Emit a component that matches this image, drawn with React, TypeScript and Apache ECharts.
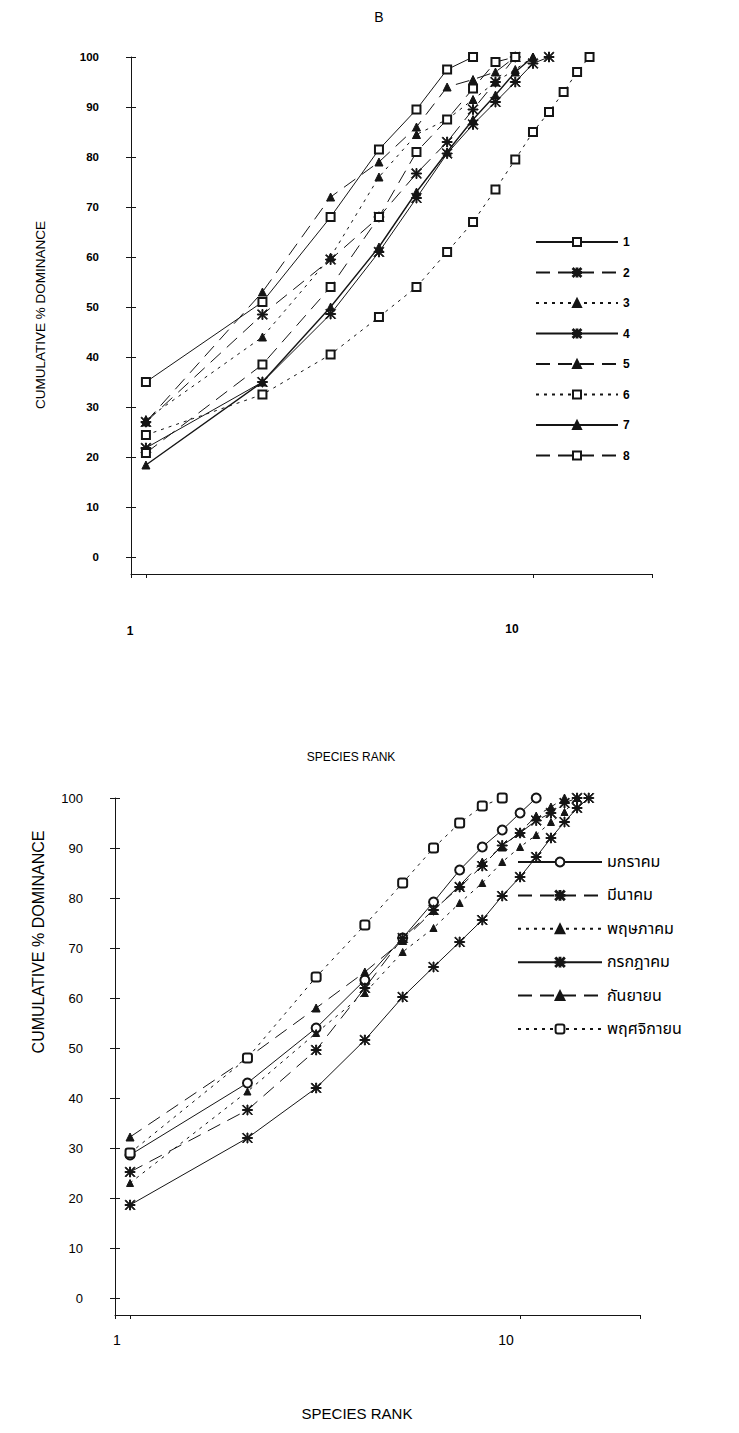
import React, { useEffect, useRef } from "react";
import * as echarts from "echarts";

// Species rank positions (x values, log scale)
const speciesRank = [1, 2, 3, 4, 5, 6, 7, 8, 9, 10, 11, 12, 13, 14, 15];

// Y-axis tick values (cumulative % dominance)
const yTicks = [0, 10, 20, 30, 40, 50, 60, 70, 80, 90, 100];

// Panel B: stations 1–8, cumulative % dominance by species rank
const stationNames = ["1", "2", "3", "4", "5", "6", "7", "8"];
const st1 = [35, 51, 68, 81.5, 89.5, 97.5, 100];
const st2 = [27, 48.5, 59.5, 68, 76.7, 83, 89.5, 95, 100];
const st3 = [27.5, 44, 60, 76, 84.5, 87.5, 91.5, 95, 97.5, 100];
const st4 = [21.8, 35, 48.6, 61, 71.8, 80.7, 86.5, 91, 95, 98.7, 100];
const st5 = [27, 53, 72, 79, 86, 94, 95.5, 97, 100];
const st6 = [24.4, 32.5, 40.5, 48, 54, 61, 67, 73.5, 79.5, 85, 89, 93, 97, 100];
const st7 = [18.4, 35, 50, 62, 73, 81, 87.5, 92.4, 97, 100];
const st8 = [20.8, 38.5, 54, 68, 81, 87.5, 93.7, 99, 100];

// Lower panel: sampling months
const monthNames = ["มกราคม", "มีนาคม", "พฤษภาคม", "กรกฎาคม", "กันยายน", "พฤศจิกายน"];
const jan = [28.6, 43, 54, 63.6, 72, 79.2, 85.6, 90.2, 93.6, 97, 100];
const mar = [25.2, 37.6, 49.6, 62, 72, 77.6, 82.2, 86.4, 90.5, 93, 95.5, 97, 99, 100];
const may = [23, 41.3, 53, 61, 69.2, 74, 79, 83, 87.2, 90.2, 92.6, 95.2, 97.2, 100];
const jul = [18.6, 32, 42, 51.6, 60.2, 66.2, 71.2, 75.6, 80.4, 84.2, 88.2, 92, 95.2, 98, 100];
const sep = [32.2, 48, 58, 65.2, 71.5, 77.5, 82.5, 87.2, 90.2, 93.2, 96.4, 98.2, 100];
const nov = [29, 48, 64.2, 74.6, 83, 90, 95, 98.4, 100];

const INK = "#151515";
const FONT = "'Liberation Sans', Arial, Helvetica, sans-serif";
const THAI_FONT = "'Noto Sans Thai', 'Noto Serif Thai', 'Loma', 'Garuda', 'Norasi', 'Noto Sans', sans-serif";

const ASTERISK =
  "path://M4.5,0 L5.5,0 L5.5,10 L4.5,10 Z M0,4.5 L10,4.5 L10,5.5 L0,5.5 Z " +
  "M0.7,0 L10,9.3 L9.3,10 L0,0.7 Z M9.3,0 L10,0.7 L0.7,10 L0,9.3 Z";

const LONG_DASH = [14, 8];
const SHORT_DASH = [3, 5];

type Look = { symbol: string; size: number; dash: any; width?: number };

const stationLooks: Look[] = [
  { symbol: "emptyRect", size: 8, dash: "solid" },
  { symbol: ASTERISK, size: 10, dash: LONG_DASH },
  { symbol: "triangle", size: 8, dash: SHORT_DASH },
  { symbol: ASTERISK, size: 10, dash: "solid" },
  { symbol: "triangle", size: 8, dash: LONG_DASH },
  { symbol: "emptyRect", size: 8, dash: SHORT_DASH },
  { symbol: "triangle", size: 8, dash: "solid", width: 1.4 },
  { symbol: "emptyRect", size: 8, dash: LONG_DASH },
];

const monthLooks: Look[] = [
  { symbol: "emptyCircle", size: 9, dash: "solid" },
  { symbol: ASTERISK, size: 10, dash: LONG_DASH },
  { symbol: "triangle", size: 7, dash: SHORT_DASH },
  { symbol: ASTERISK, size: 10, dash: "solid" },
  { symbol: "triangle", size: 8, dash: LONG_DASH },
  { symbol: "emptyRoundRect", size: 9, dash: SHORT_DASH },
];

const toPoints = (vals: number[]) => vals.map((v, i) => [speciesRank[i], v]);

function makeSeries(name: string, vals: number[], look: Look, axisIdx: number) {
  return {
    name,
    type: "line",
    xAxisIndex: axisIdx,
    yAxisIndex: axisIdx * 2,
    data: toPoints(vals),
    symbol: look.symbol,
    symbolSize: look.size,
    showAllSymbol: true,
    lineStyle: { color: INK, width: look.width ?? 1, type: look.dash },
    itemStyle: { color: INK, borderColor: INK, borderWidth: 1 },
    emphasis: { disabled: true },
  };
}

function yAxesFor(gridIndex: number, fontSize: number, fontWeight: string) {
  return [
    {
      gridIndex,
      type: "value",
      min: -3.4,
      max: 100,
      axisLine: { show: true, lineStyle: { color: INK, width: 1 } },
      axisTick: { show: true, length: 5, customValues: yTicks, lineStyle: { color: INK } },
      axisLabel: { customValues: yTicks, margin: 32, fontSize, fontWeight, color: "#000", fontFamily: FONT },
      splitLine: { show: false },
    },
    {
      gridIndex,
      type: "value",
      position: "left",
      min: -3.4,
      max: 100,
      axisLine: { show: false },
      axisTick: { show: true, inside: true, length: 5, customValues: yTicks, lineStyle: { color: INK } },
      axisLabel: { show: false },
      splitLine: { show: false },
    },
  ];
}

function xAxisFor(gridIndex: number) {
  return {
    gridIndex,
    type: "log",
    logBase: 10,
    min: 0.915,
    max: 20.3,
    axisLine: { show: true, onZero: false, lineStyle: { color: INK, width: 1 } },
    axisTick: { show: true, length: 4, lineStyle: { color: INK } },
    axisLabel: { show: false },
    splitLine: { show: false },
  };
}

function label(text: string, x: number, y: number, size: number, weight = "normal", extra: any = {}) {
  return {
    type: "text",
    x,
    y,
    silent: true,
    ...extra,
    style: {
      text,
      fill: "#000",
      font: `${weight} ${size}px ${FONT}`,
      align: "center",
      verticalAlign: "middle",
    },
  };
}

export default function App() {
  const ref = useRef<HTMLDivElement>(null);

  useEffect(() => {
    if (!ref.current) return;
    const chart = echarts.init(ref.current, undefined, { renderer: "svg" });

    const stationData = [st1, st2, st3, st4, st5, st6, st7, st8];
    const monthData = [jan, mar, may, jul, sep, nov];

    chart.setOption({
      animation: false,
      backgroundColor: "#ffffff",
      grid: [
        { left: 131, top: 57, width: 521, height: 517 },
        { left: 115, top: 798, width: 525, height: 517 },
      ],
      xAxis: [xAxisFor(0), xAxisFor(1)],
      yAxis: [...yAxesFor(0, 11.5, "bold"), ...yAxesFor(1, 13, "normal")],
      legend: [
        {
          data: stationNames,
          orient: "vertical",
          left: 535,
          top: 236,
          padding: 0,
          itemWidth: 82,
          itemHeight: 10,
          itemGap: 18.5,
          selectedMode: false,
          textStyle: { fontSize: 12, fontWeight: "bold", color: "#000", fontFamily: FONT },
        },
        {
          data: monthNames,
          orient: "vertical",
          left: 517,
          top: 854,
          padding: 0,
          itemWidth: 84,
          itemHeight: 11,
          itemGap: 17.4,
          selectedMode: false,
          textStyle: { fontSize: 16, color: "#000", fontFamily: THAI_FONT },
        },
      ],
      series: [
        ...stationNames.map((n, i) => makeSeries(n, stationData[i], stationLooks[i], 0)),
        ...monthNames.map((n, i) => makeSeries(n, monthData[i], monthLooks[i], 1)),
      ],
      graphic: [
        label("B", 379, 17, 14),
        label("1", 130, 631, 12, "bold"),
        label("10", 512, 629, 12, "bold"),
        label("SPECIES RANK", 351, 757, 12),
        label("CUMULATIVE % DOMINANCE", 40, 315, 13.5, "normal", { rotation: Math.PI / 2 }),
        label("1", 117, 1340, 14),
        label("10", 506, 1340, 14),
        label("SPECIES RANK", 357, 1413, 15),
        label("CUMULATIVE % DOMINANCE", 38, 942, 16, "normal", { rotation: Math.PI / 2 }),
      ],
    });

    return () => chart.dispose();
  }, []);

  return (
    <div
      ref={ref}
      style={{ position: "absolute", left: 0, top: 0, width: 739, height: 1433, background: "#fff" }}
    />
  );
}
